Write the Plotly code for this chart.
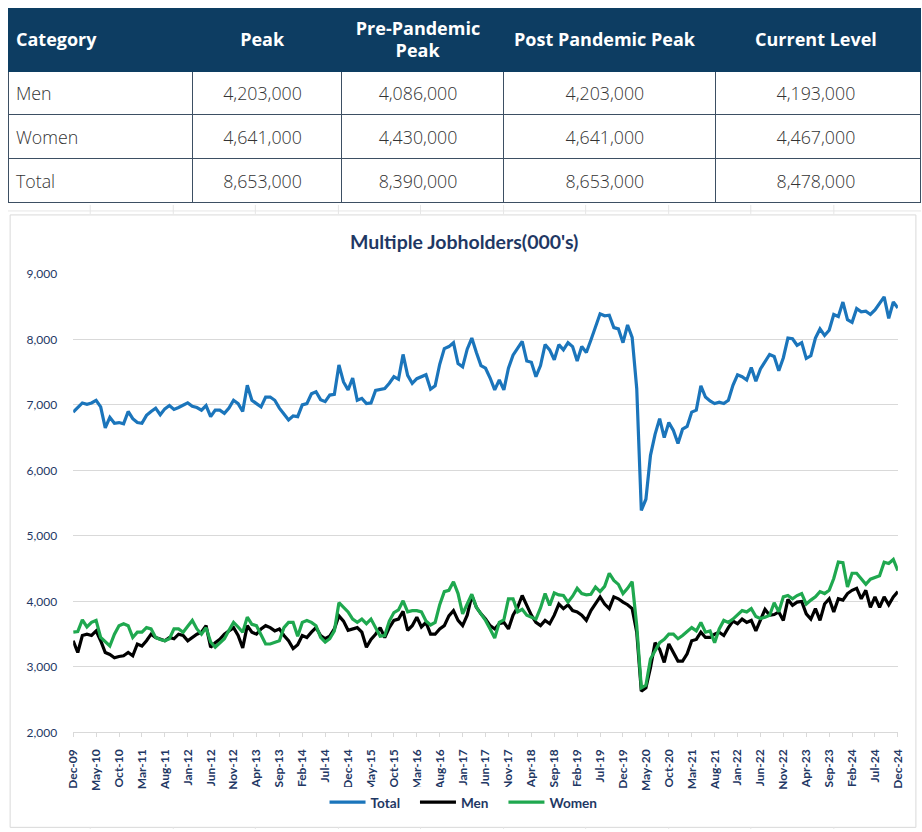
import plotly.graph_objects as go
import pandas as pd

# ---------------- table data ----------------
table_headers = ["Category", "Peak", "Pre-Pandemic<br>Peak", "Post Pandemic Peak", "Current Level"]
table_categories = ["Men", "Women", "Total"]
peak = ["4,203,000", "4,641,000", "8,653,000"]
pre_pandemic_peak = ["4,086,000", "4,430,000", "8,390,000"]
post_pandemic_peak = ["4,203,000", "4,641,000", "8,653,000"]
current_level = ["4,193,000", "4,467,000", "8,478,000"]

# ---------------- chart data (thousands), Dec-2009 .. Dec-2024 monthly ----------------
months = [d.strftime("%b-%y") for d in pd.date_range("2009-12-01", "2024-12-01", freq="MS")]

tick_labels = ["Dec-09", "May-10", "Oct-10", "Mar-11", "Aug-11", "Jan-12", "Jun-12", "Nov-12",
               "Apr-13", "Sep-13", "Feb-14", "Jul-14", "Dec-14", "May-15", "Oct-15", "Mar-16",
               "Aug-16", "Jan-17", "Jun-17", "Nov-17", "Apr-18", "Sep-18", "Feb-19", "Jul-19",
               "Dec-19", "May-20", "Oct-20", "Mar-21", "Aug-21", "Jan-22", "Jun-22", "Nov-22",
               "Apr-23", "Sep-23", "Feb-24", "Jul-24", "Dec-24"]

total = [6890, 6960, 7030, 7010, 7030, 7070, 6970, 6650, 6810, 6720,
         6730, 6710, 6900, 6790, 6730, 6720, 6840, 6900, 6950, 6850,
         6940, 6990, 6930, 6960, 7000, 7030, 6980, 6960, 6920, 6990,
         6820, 6920, 6920, 6870, 6950, 7070, 7020, 6900, 7300, 7070,
         7020, 6970, 7120, 7120, 7070, 6950, 6860, 6770, 6830, 6820,
         7000, 7020, 7170, 7200, 7080, 7050, 7150, 7160, 7610, 7350,
         7230, 7410, 7070, 7100, 7020, 7030, 7220, 7240, 7250, 7330,
         7430, 7390, 7770, 7450, 7330, 7400, 7430, 7460, 7240, 7290,
         7620, 7860, 7890, 7950, 7630, 7580, 7850, 8020, 7800, 7600,
         7560, 7410, 7230, 7380, 7230, 7560, 7760, 7860, 7970, 7670,
         7650, 7430, 7600, 7920, 7840, 7690, 7920, 7840, 7950, 7890,
         7670, 7890, 7800, 7990, 8180, 8390, 8360, 8370, 8180, 8160,
         7950, 8220, 8030, 7250, 5390, 5560, 6230, 6550, 6790, 6500,
         6730, 6610, 6410, 6630, 6670, 6890, 6920, 7290, 7120, 7060,
         7020, 7040, 7020, 7070, 7300, 7460, 7430, 7380, 7570, 7360,
         7550, 7650, 7770, 7740, 7520, 7720, 8020, 8010, 7910, 7950,
         7710, 7750, 8020, 8160, 8060, 8140, 8380, 8350, 8570, 8300,
         8260, 8470, 8420, 8430, 8380, 8450, 8540, 8650, 8320, 8570,
         8480]

men = [3400, 3220, 3480, 3500, 3480, 3550, 3400, 3220, 3190, 3140,
       3160, 3170, 3220, 3170, 3350, 3320, 3400, 3500, 3450, 3420,
       3400, 3450, 3430, 3500, 3480, 3400, 3450, 3500, 3530, 3630,
       3300, 3370, 3420, 3500, 3550, 3600, 3480, 3290, 3630, 3530,
       3500, 3580, 3630, 3600, 3550, 3580, 3480, 3400, 3280, 3340,
       3480, 3450, 3530, 3600, 3480, 3430, 3470, 3580, 3780, 3700,
       3560, 3580, 3600, 3530, 3300, 3420, 3500, 3600, 3450, 3600,
       3710, 3730, 3850, 3560, 3630, 3760, 3610, 3680, 3500, 3500,
       3580, 3630, 3780, 3860, 3710, 3630, 3790, 4090, 3910, 3810,
       3730, 3630, 3580, 3660, 3680, 3580, 3790, 3910, 4090, 3940,
       3790, 3680, 3630, 3710, 3660, 3790, 3960, 3890, 3950, 3860,
       3840, 3790, 3710, 3860, 3960, 4070, 3960, 3890, 4070, 4040,
       3990, 3950, 3890, 3530, 2630, 2680, 2990, 3370, 3270, 3070,
       3350, 3220, 3090, 3090, 3200, 3400, 3420, 3530, 3450, 3450,
       3500, 3530, 3480, 3600, 3700, 3660, 3730, 3680, 3710, 3550,
       3710, 3880, 3790, 3800, 3840, 3710, 4030, 3940, 3990, 4000,
       3810, 3730, 3890, 3710, 3960, 4040, 3840, 4040, 4020, 4120,
       4170, 4200, 4040, 4170, 3910, 4070, 3910, 4070, 3950, 4070,
       4150]

women = [3530, 3540, 3720, 3610, 3680, 3710, 3450, 3380, 3320, 3500,
         3630, 3660, 3630, 3450, 3530, 3530, 3600, 3580, 3450, 3420,
         3400, 3430, 3580, 3580, 3530, 3620, 3710, 3580, 3500, 3600,
         3380, 3300, 3360, 3430, 3560, 3680, 3610, 3530, 3760, 3650,
         3630, 3480, 3350, 3350, 3370, 3400, 3600, 3680, 3680, 3470,
         3680, 3710, 3680, 3630, 3450, 3380, 3430, 3550, 3980, 3910,
         3840, 3730, 3680, 3730, 3660, 3730, 3600, 3470, 3480, 3700,
         3830, 3870, 4010, 3840, 3860, 3860, 3840, 3700, 3640, 3680,
         3950, 4150, 4170, 4300, 4120, 3810, 3960, 4110, 3910, 3810,
         3710, 3580, 3440, 3680, 3720, 4040, 4040, 3840, 3880, 3790,
         3760, 3730, 3900, 4120, 3940, 4130, 4100, 4090, 3990, 4080,
         4200, 4120, 4100, 4110, 4220, 4150, 4230, 4430, 4320, 4260,
         4120, 4200, 4300, 3630, 2680, 2720, 3120, 3250, 3370, 3420,
         3500, 3500, 3430, 3480, 3540, 3600, 3550, 3680, 3530, 3550,
         3370, 3580, 3710, 3680, 3730, 3790, 3860, 3840, 3890, 3770,
         3740, 3760, 3790, 3980, 3840, 4070, 4090, 4040, 4090, 4120,
         3960, 4020, 4070, 4150, 4120, 4170, 4350, 4600, 4590, 4220,
         4430, 4430, 4350, 4260, 4340, 4370, 4390, 4600, 4580, 4640,
         4470]

# Layout helpers: targets are given in pixels of the 922x832 picture.
# The page is shown slightly reduced (S) with the figure offset by O css px.
S, O = 0.983, 8
W, H = 928, 836
NAVY = "#1f3864"
CLEAR = "rgba(0,0,0,0)"


def fig_px(p):
    return p / S - O


def fx(px):
    return min(max(fig_px(px) / W, 0), 1)


def fy(py):
    return min(max(1 - fig_px(py) / H, 0), 1)


TABLE_LEFT = O * S  # left-most picture x the figure can reach
grid_widths = [192 - TABLE_LEFT, 149, 162, 212, 205]
text_widths = [188 - TABLE_LEFT, 149, 162, 212, 210.2]
col_align = ["left", "center", "center", "center", "center"]
blank_cols = [[""] * len(table_categories) for _ in table_headers]
header_lines = [h.split("<br>") for h in table_headers]
bold = lambda t: "<b>" + t + "</b>" if t else ""
header_font = dict(family="Open Sans", size=18, color="white")
body_font = dict(family="Open Sans", size=17.8, color="#333333", weight=300)
ROW = 43 / S

fig = go.Figure()

# grid of the table (fills and borders)
fig.add_trace(go.Table(
    domain=dict(x=[0, fx(TABLE_LEFT + sum(grid_widths))], y=[fy(205), fy(2)]),
    columnwidth=grid_widths,
    header=dict(values=["" for _ in table_headers], fill_color="#0d3d62",
                line=dict(color="#0d3d62", width=1), height=fig_px(70)),
    cells=dict(values=blank_cols, fill_color="white",
               line=dict(color="#3d4f63", width=1), height=ROW),
))

text_x = [0, fx(TABLE_LEFT + sum(text_widths))]

# single-line header labels and body values
fig.add_trace(go.Table(
    domain=dict(x=text_x, y=[fy(215), fy(18.5)]),
    columnwidth=text_widths,
    header=dict(values=[bold(l[0]) if len(l) == 1 else "" for l in header_lines],
                fill_color=CLEAR, line=dict(color=CLEAR, width=0),
                font=header_font, align=col_align, height=fig_px(77.8) - fig_px(18.5)),
    cells=dict(values=[table_categories, peak, pre_pandemic_peak, post_pandemic_peak, current_level],
               fill_color=CLEAR, line=dict(color=CLEAR, width=0),
               font=body_font, align=col_align, height=ROW),
))

# two-line header labels, one table per line so that each line is centred
for line_idx, top in [(0, 6.5), (1, 29.7)]:
    fig.add_trace(go.Table(
        domain=dict(x=text_x, y=[fy(top + 80), fy(top)]),
        columnwidth=text_widths,
        header=dict(values=[bold(l[line_idx]) if len(l) == 2 else "" for l in header_lines],
                    fill_color=CLEAR, line=dict(color=CLEAR, width=0),
                    font=header_font, align=col_align, height=40),
        cells=dict(values=[[""] for _ in table_headers], fill_color=CLEAR,
                   line=dict(color=CLEAR, width=0), height=20),
    ))

series = [("Total", total, "#1b75bb"), ("Men", men, "#000000"), ("Women", women, "#1fa84f")]
for name, vals, color in series:
    fig.add_trace(go.Scatter(
        x=months, y=vals, name=name + "\u00a0\u00a0\u00a0", mode="lines",
        line=dict(color=color, width=3.2),
    ))

shapes = [
    dict(type="rect", xref="paper", yref="paper",
         x0=fx(10), x1=fx(915), y0=fy(828), y1=fy(215),
         line=dict(color="#d9d9d9", width=1), layer="below"),
    dict(type="line", xref="paper", yref="paper",
         x0=0, x1=1, y0=fy(211), y1=fy(211),
         line=dict(color="#e6e6e6", width=1), layer="below"),
]
for gx in [90, 173, 255, 338, 420, 503, 585, 668, 750, 833]:
    shapes.append(dict(type="line", xref="paper", yref="paper",
                       x0=fx(gx), x1=fx(gx), y0=fy(214), y1=fy(205),
                       line=dict(color="#e6e6e6", width=1), layer="below"))
    shapes.append(dict(type="line", xref="paper", yref="paper",
                       x0=fx(gx), x1=fx(gx), y0=fy(832), y1=fy(828),
                       line=dict(color="#e6e6e6", width=1), layer="below"))

fig.update_layout(
    width=W, height=H,
    margin=dict(l=0, r=0, t=0, b=0),
    paper_bgcolor="white", plot_bgcolor="white",
    showlegend=True,
    legend=dict(orientation="h", x=fx(468), xanchor="center", y=fy(803), yanchor="middle",
                font=dict(family="Lato", size=13.6, color=NAVY, weight="bold"),
                itemwidth=36, tracegroupgap=0),
    xaxis=dict(
        domain=[fx(73), fx(897)],
        type="category", categoryorder="array", categoryarray=months,
        range=[0, len(months) - 1],
        tickmode="array", tickvals=tick_labels, ticktext=tick_labels,
        tickangle=-90,
        tickfont=dict(family="Lato", size=12, color=NAVY, weight="bold"),
        ticks="outside", ticklen=4, tickcolor="#d9d9d9",
        showgrid=False, zeroline=False,
        showline=True, linecolor="#d9d9d9", linewidth=1,
        ticklabelstandoff=7,
    ),
    yaxis=dict(
        domain=[fy(733), fy(274)],
        range=[2000, 9000], dtick=1000, tickformat=",",
        gridcolor="#d9d9d9", gridwidth=1,
        zeroline=False, showline=False,
        tickfont=dict(family="Lato", size=12, color=NAVY),
        ticklabelstandoff=15,
    ),
    annotations=[dict(
        text="<b>Multiple Jobholders(000's)</b>", xref="paper", yref="paper",
        x=fx(463), y=fy(242), xanchor="center", yanchor="middle", showarrow=False,
        font=dict(family="Lato", size=19.5, color=NAVY),
    )],
    shapes=shapes,
)

fig.write_html("out.html", config={"displayModeBar": False},
               post_script="document.body.style.margin='0';")
